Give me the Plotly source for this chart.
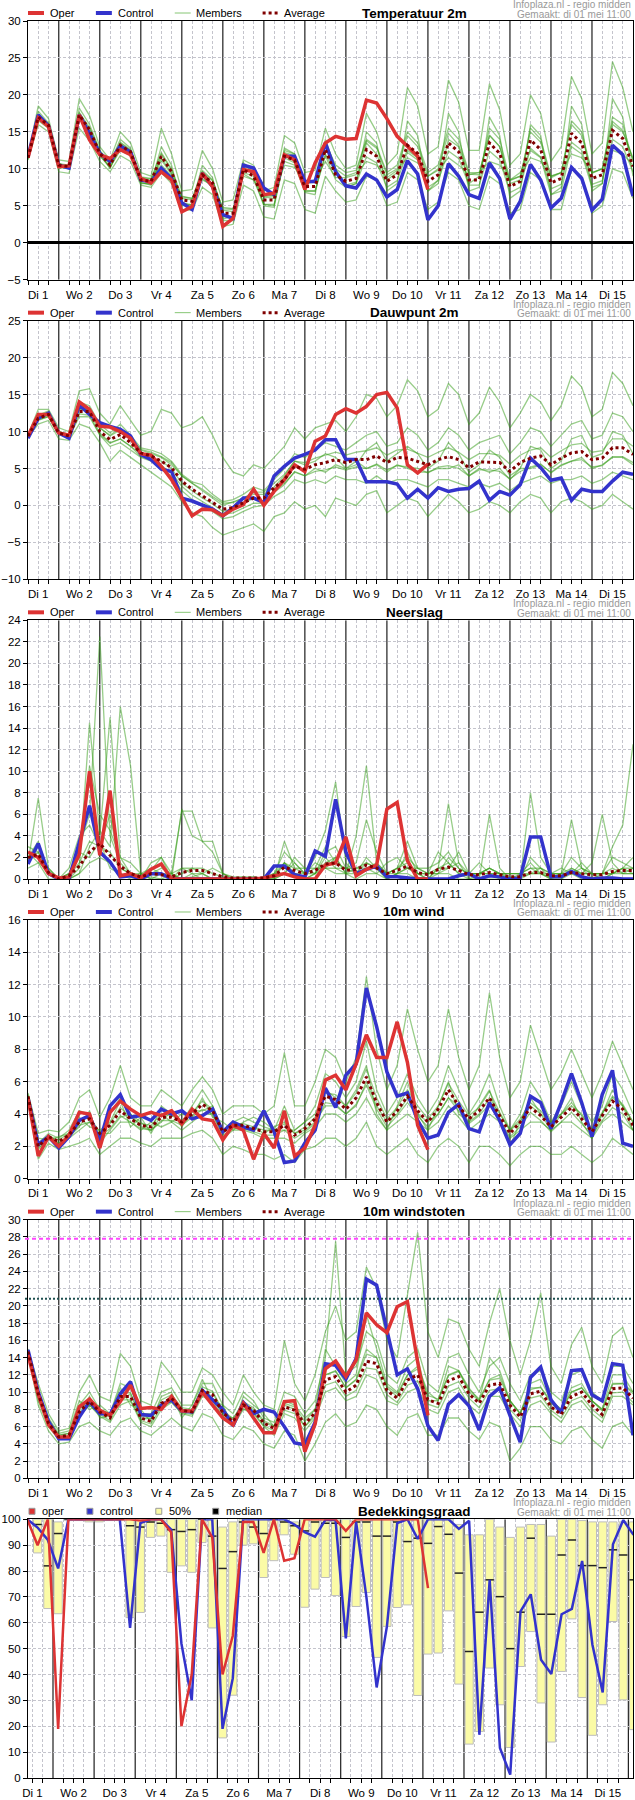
import pandas as pd
import plotly.graph_objects as go

# --- tijdas -------------------------------------------------------------
times = pd.date_range("2018-05-01 06:00", periods=60, freq="6h")
cloud_times = pd.date_range("2018-05-01 09:00", periods=60, freq="6h")
day_labels = ["Di 1", "Wo 2", "Do 3", "Vr 4", "Za 5", "Zo 6", "Ma 7", "Di 8",
              "Wo 9", "Do 10", "Vr 11", "Za 12", "Zo 13", "Ma 14", "Di 15"]
label_pos = pd.date_range("2018-05-01 12:00", periods=15, freq="D")
quarter_pos = pd.date_range("2018-05-01 06:00", periods=31, freq="12h")  # 06 en 18 uur
midnights = pd.date_range("2018-05-02", periods=15, freq="D")

# --- temperatuur 2m -----------------------------------------------------
temp_oper = [11.5, 16.9, 15.7, 10.3, 10.4, 17.3, 13.9, 11.9, 11.4, 12.6,
             11.9, 8.7, 8.1, 9.6, 8.5, 4.2, 4.9, 9.4, 7.6, 2.2,
             3.3, 9.9, 9.6, 6.5, 6.7, 11.9, 11.2, 7.2, 10.8, 13.5,
             14.4, 14.0, 14.1, 19.3, 18.9, 16.8, 14.4, 13.0, 11.7, 7.2]
temp_control = [11.7, 17.3, 15.8, 10.5, 10.1, 17.3, 14.8, 12.1, 11.0, 13.1,
                12.3, 8.5, 8.2, 10.1, 8.7, 5.4, 4.5, 9.4, 7.6, 3.8,
                3.3, 10.5, 10.1, 7.4, 6.5, 11.7, 11.7, 8.3, 8.3, 13.5,
                9.6, 7.7, 7.4, 9.3, 8.5, 6.2, 7.2, 11.1, 9.3, 3.1,
                5.0, 10.7, 9.0, 6.5, 6.0, 10.8, 8.7, 3.2, 5.6, 10.6,
                8.5, 4.7, 6.0, 10.2, 8.7, 4.4, 5.9, 13.2, 11.9, 6.3]
temp_average = [11.5, 17.0, 15.9, 10.5, 10.3, 17.3, 15.3, 12.1, 10.5, 13.2,
                12.3, 8.5, 8.3, 11.7, 9.6, 5.8, 5.6, 9.2, 8.1, 4.0,
                4.0, 9.9, 9.0, 5.8, 5.8, 11.7, 11.2, 7.6, 7.6, 12.6,
                9.2, 8.3, 8.7, 12.6, 11.7, 8.3, 9.2, 13.2, 12.1, 8.3,
                9.2, 13.5, 12.3, 8.5, 8.5, 13.5, 12.1, 7.6, 8.3, 13.9,
                12.6, 8.1, 8.7, 14.8, 13.5, 8.7, 9.2, 15.2, 14.1, 10.3]
temp_members = [
    [11.8, 18.5, 16.8, 11.2, 11.0, 19.5, 17.2, 13.0, 11.2, 15.0,
     13.5, 9.5, 9.0, 15.5, 12.0, 7.0, 7.2, 12.5, 10.0, 5.5,
     5.8, 11.2, 10.5, 7.0, 7.5, 14.5, 13.5, 9.5, 9.8, 15.5,
     12.0, 10.0, 10.5, 17.5, 15.0, 10.5, 12.0, 21.0, 18.5, 12.0,
     13.0, 22.0, 19.0, 12.5, 12.5, 21.5, 18.0, 10.5, 12.0, 20.0,
     17.5, 11.0, 13.0, 22.5, 19.5, 12.0, 13.5, 24.5, 21.0, 15.0],
    [11.2, 16.0, 15.0, 9.6, 9.4, 15.5, 13.8, 11.0, 9.6, 11.8,
     11.0, 7.8, 7.5, 9.5, 8.0, 4.5, 4.4, 7.5, 6.5, 2.2,
     2.5, 7.8, 7.0, 3.5, 3.2, 8.5, 8.0, 4.5, 4.0, 9.0,
     7.0, 5.5, 5.8, 9.0, 8.5, 5.0, 5.5, 9.5, 8.5, 4.5,
     5.5, 9.5, 8.5, 5.0, 4.5, 9.0, 8.0, 4.0, 4.5, 9.5,
     8.5, 4.5, 4.5, 10.0, 9.0, 4.0, 5.0, 10.0, 9.5, 6.0],
    [11.5, 17.8, 16.2, 10.0, 10.6, 18.2, 16.0, 12.5, 10.8, 14.0,
     12.8, 8.0, 8.0, 13.0, 10.5, 5.0, 5.2, 10.5, 8.8, 3.2,
     3.6, 10.8, 9.8, 5.2, 5.0, 12.8, 12.0, 6.8, 6.5, 14.0,
     10.0, 7.5, 8.0, 15.0, 13.5, 7.0, 8.0, 16.5, 14.5, 7.0,
     8.5, 17.5, 15.0, 7.0, 7.5, 17.0, 14.5, 6.0, 7.0, 16.0,
     14.5, 6.5, 7.5, 18.5, 16.0, 7.0, 8.0, 19.5, 17.0, 9.0],
    [11.6, 16.5, 15.5, 10.8, 10.0, 16.8, 14.8, 11.8, 10.2, 12.5,
     11.8, 8.8, 8.6, 10.5, 9.0, 6.2, 6.0, 8.5, 7.8, 4.8,
     4.6, 9.0, 8.5, 6.2, 6.4, 10.5, 10.2, 8.2, 8.5, 11.0,
     8.8, 8.8, 9.2, 11.0, 10.5, 8.8, 9.8, 11.5, 10.8, 9.0,
     9.8, 11.5, 10.5, 9.2, 9.5, 11.0, 10.5, 8.5, 9.0, 11.5,
     11.0, 9.0, 9.5, 12.0, 11.5, 9.5, 10.0, 12.5, 12.0, 10.5],
    [11.4, 17.2, 16.0, 10.2, 10.2, 17.0, 15.5, 12.3, 10.0, 13.5,
     12.5, 8.2, 7.8, 12.0, 9.8, 5.5, 5.0, 9.0, 7.5, 3.0,
     3.0, 9.5, 9.0, 5.0, 4.8, 11.5, 10.8, 7.0, 7.0, 12.0,
     9.5, 7.8, 8.2, 13.5, 12.0, 8.5, 9.5, 12.5, 11.5, 7.0,
     8.0, 14.0, 13.0, 8.0, 9.0, 15.5, 14.0, 8.5, 9.5, 12.5,
     11.5, 6.5, 7.0, 13.0, 12.0, 7.5, 8.0, 16.0, 15.0, 11.5],
    [11.6, 17.4, 15.8, 10.6, 10.4, 17.6, 15.0, 12.0, 10.6, 13.0,
     12.0, 8.6, 8.4, 11.5, 9.4, 6.0, 5.8, 9.6, 8.4, 4.4,
     4.2, 10.2, 9.4, 6.2, 6.0, 12.2, 11.8, 8.0, 8.2, 13.5,
     10.5, 9.5, 9.8, 14.0, 13.0, 9.5, 10.5, 15.0, 13.5, 9.5,
     10.5, 15.5, 14.0, 9.5, 9.5, 14.5, 13.0, 8.0, 8.5, 15.5,
     14.0, 9.0, 9.5, 16.5, 15.0, 9.5, 10.0, 17.0, 16.0, 11.0],
    [11.5, 17.1, 16.1, 10.7, 10.5, 17.6, 15.6, 12.4, 10.9, 13.6,
     12.6, 8.9, 8.7, 12.2, 10.0, 6.3, 6.0, 9.8, 8.5, 4.6,
     4.5, 10.5, 9.6, 6.5, 6.3, 12.5, 12.0, 8.3, 8.2, 13.4,
     10.0, 9.0, 9.5, 13.8, 12.8, 9.2, 10.0, 14.5, 13.0, 9.0,
     10.0, 14.8, 13.2, 9.3, 9.2, 14.6, 13.0, 8.4, 9.0, 15.0,
     13.6, 8.8, 9.5, 16.0, 14.5, 9.4, 10.0, 16.4, 15.2, 11.2],
    [11.4, 16.7, 15.6, 10.2, 10.0, 16.9, 14.9, 11.8, 10.2, 12.8,
     12.0, 8.1, 7.9, 11.2, 9.2, 5.3, 5.2, 8.7, 7.6, 3.5,
     3.5, 9.3, 8.5, 5.2, 5.2, 11.0, 10.5, 7.0, 7.0, 11.8,
     8.5, 7.5, 8.0, 11.6, 10.8, 7.5, 8.4, 12.2, 11.2, 7.5,
     8.4, 12.4, 11.4, 7.8, 7.8, 12.4, 11.2, 6.8, 7.5, 12.8,
     11.6, 7.3, 7.9, 13.6, 12.5, 7.9, 8.4, 14.0, 13.0, 9.6],
]

# --- dauwpunt 2m --------------------------------------------------------
dew_oper = [9.4, 12.3, 12.3, 9.8, 9.5, 14.0, 13.0, 10.7, 10.6, 10.0,
            9.1, 7.0, 6.8, 5.3, 3.5, 1.0, -1.4, -0.5, -0.6, -1.4,
            -0.5, 0.1, 2.2, 0.0, 1.9, 3.5, 5.5, 4.6, 8.7, 9.4,
            12.3, 13.1, 12.5, 13.4, 15.0, 15.3, 13.2, 5.5, 4.4, 5.6]
dew_control = [9.1, 11.8, 12.5, 9.8, 9.1, 13.6, 12.3, 11.2, 10.7, 10.3,
               9.4, 6.9, 6.2, 4.9, 4.6, 1.0, 0.6, 0.1, -0.5, -1.4,
               -0.3, 1.0, 1.0, 0.4, 4.0, 5.3, 6.4, 6.9, 7.5, 8.9,
               8.9, 6.2, 6.2, 3.2, 3.2, 3.2, 2.9, 1.0, 2.2, 1.0,
               2.4, 1.9, 2.2, 2.3, 3.3, 0.7, 1.9, 1.4, 2.8, 6.4,
               5.1, 3.4, 3.7, 0.7, 2.2, 1.9, 1.9, 3.3, 4.5, 4.2]
dew_average = [9.4, 11.8, 12.3, 9.8, 9.4, 12.7, 12.7, 10.0, 8.9, 9.6,
               8.5, 7.1, 6.7, 6.0, 5.1, 3.3, 2.2, 1.3, 0.4, -0.5,
               -0.3, 0.4, 1.0, 1.0, 2.4, 3.5, 5.3, 4.9, 5.5, 5.8,
               6.2, 5.8, 6.2, 6.2, 6.7, 5.8, 6.5, 6.4, 6.0, 5.5,
               6.2, 6.6, 6.2, 5.1, 5.9, 5.9, 5.8, 4.6, 5.8, 6.4,
               6.7, 5.5, 6.4, 7.1, 7.3, 6.2, 6.4, 7.8, 7.8, 6.9]
dew_members = [
    [9.6, 13.0, 13.0, 10.5, 10.0, 15.5, 15.8, 12.5, 11.0, 13.5,
     11.5, 9.5, 10.0, 13.0, 12.5, 10.5, 11.0, 12.0, 9.5, 6.5,
     4.5, 4.0, 5.5, 5.0, 6.5, 8.0, 10.5, 9.0, 10.5, 11.0,
     11.5, 10.0, 12.0, 15.0, 14.5, 12.0, 13.5, 17.0, 15.5, 12.0,
     13.0, 16.5, 15.0, 11.0, 12.5, 16.0, 14.0, 10.5, 12.5, 15.0,
     14.0, 11.5, 13.5, 17.5, 16.0, 12.0, 13.0, 18.0, 16.5, 13.5],
    [9.2, 11.0, 11.5, 9.0, 8.8, 11.0, 10.5, 8.5, 6.0, 7.5,
     6.5, 5.5, 4.5, 3.5, 2.5, 0.5, -1.0, -1.5, -3.0, -4.0,
     -3.5, -3.0, -2.5, -3.5, -1.5, -1.0, 0.5, -0.5, 0.0, -1.5,
     1.0, 0.5, 0.0, 1.5, 2.0, -1.0, 0.0, 1.0, 0.5, -1.5,
     0.0, 1.5, 0.5, -1.0, -0.5, 0.5, 0.0, -1.0, 0.5, 1.5,
     1.0, -1.0, 0.5, 1.0, 0.5, -0.5, 0.0, 1.5, 0.5, -0.5],
    [9.5, 12.2, 12.8, 10.0, 9.6, 14.0, 13.5, 11.0, 9.8, 11.0,
     9.5, 7.8, 7.5, 7.0, 6.0, 4.2, 3.2, 2.8, 1.5, 0.5,
     0.8, 1.5, 2.5, 2.0, 3.5, 5.0, 7.0, 6.5, 7.5, 8.5,
     8.0, 7.5, 8.5, 9.5, 10.0, 8.0, 8.5, 10.5, 9.5, 7.5,
     8.5, 10.5, 9.5, 7.5, 8.5, 9.0, 9.5, 7.0, 8.5, 10.5,
     10.0, 8.0, 9.5, 11.0, 11.5, 9.0, 9.5, 12.5, 12.0, 10.0],
    [9.3, 11.5, 12.0, 9.6, 9.2, 12.0, 12.0, 9.5, 8.0, 8.5,
     7.5, 6.5, 6.0, 5.0, 4.0, 2.0, 0.8, 0.0, -0.8, -1.8,
     -1.5, -0.8, -0.2, 0.0, 1.2, 2.0, 3.5, 3.0, 3.5, 3.0,
     4.0, 3.5, 3.5, 3.0, 4.0, 3.0, 3.5, 3.5, 3.0, 2.5,
     3.5, 3.5, 3.0, 2.5, 3.0, 2.5, 3.0, 2.0, 3.0, 3.5,
     4.0, 3.0, 3.5, 3.5, 4.0, 3.0, 3.5, 4.5, 4.0, 3.5],
    [9.4, 12.0, 12.5, 9.8, 9.5, 13.0, 13.0, 10.5, 9.5, 10.5,
     9.0, 7.5, 7.0, 6.5, 5.5, 4.0, 3.0, 2.0, 1.0, 0.0,
     0.5, 1.0, 1.5, 1.5, 2.5, 4.0, 6.0, 5.5, 6.0, 7.0,
     6.5, 5.0, 5.5, 7.5, 8.5, 6.0, 7.0, 8.0, 7.0, 5.0,
     6.0, 8.5, 7.0, 4.5, 5.5, 7.5, 6.5, 4.0, 5.0, 8.0,
     7.5, 5.0, 6.0, 9.0, 9.5, 6.5, 7.0, 10.0, 9.5, 7.0],
    [9.5, 11.6, 12.2, 9.9, 9.3, 13.2, 12.8, 9.8, 8.5, 9.0,
     8.0, 7.0, 6.5, 6.0, 5.0, 3.0, 2.0, 1.0, 0.2, -0.8,
     -0.5, 0.2, 1.0, 0.5, 2.0, 3.0, 4.5, 4.0, 5.0, 4.5,
     5.5, 5.0, 6.0, 5.0, 5.5, 4.5, 5.5, 5.0, 4.5, 4.5,
     5.0, 5.0, 5.5, 4.0, 5.0, 4.5, 5.0, 3.5, 5.0, 5.0,
     5.5, 4.5, 5.5, 6.0, 6.5, 5.0, 5.5, 6.5, 6.5, 5.5],
    [9.4, 12.0, 12.6, 10.0, 9.6, 13.0, 13.2, 10.5, 9.4, 10.2,
     9.0, 7.6, 7.2, 6.6, 5.8, 4.0, 3.0, 2.2, 1.2, 0.3,
     0.4, 1.0, 1.8, 1.8, 3.0, 4.2, 6.0, 5.8, 6.4, 6.8,
     7.2, 6.8, 7.2, 7.4, 7.8, 6.8, 7.5, 7.6, 7.0, 6.5,
     7.2, 7.8, 7.2, 6.2, 7.0, 7.0, 6.8, 5.6, 6.8, 7.5,
     7.8, 6.5, 7.4, 8.2, 8.4, 7.2, 7.4, 9.0, 9.0, 8.0],
    [9.3, 11.6, 12.0, 9.6, 9.2, 12.4, 12.2, 9.6, 8.4, 9.0,
     8.0, 6.6, 6.2, 5.4, 4.4, 2.6, 1.4, 0.5, -0.4, -1.2,
     -1.0, -0.3, 0.3, 0.3, 1.8, 2.8, 4.6, 4.0, 4.6, 4.8,
     5.2, 4.8, 5.2, 5.0, 5.6, 4.8, 5.4, 5.2, 5.0, 4.4,
     5.2, 5.4, 5.0, 4.0, 4.8, 4.8, 4.6, 3.6, 4.6, 5.2,
     5.6, 4.4, 5.4, 6.0, 6.2, 5.2, 5.4, 6.6, 6.6, 5.8],
]

# --- neerslag -----------------------------------------------------------
rain_oper = [2.5, 2.0, 0.5, 0.1, 0.2, 2.3, 10.0, 2.2, 8.2, 0.3,
             0.5, 0.1, 0.9, 1.4, 0.0, 0.0, 0.0, 0.0, 0.0, 0.0,
             0.0, 0.0, 0.0, 0.1, 0.3, 0.5, 0.2, 0.0, 0.0, 1.3,
             1.5, 3.9, 0.3, 0.9, 1.3, 6.5, 7.1, 1.7, 0.0, 0.0]
rain_control = [1.4, 3.3, 0.5, 0.0, 0.0, 3.4, 6.8, 2.5, 1.6, 0.2,
                0.3, 0.0, 0.5, 0.5, 0.0, 0.0, 0.0, 0.0, 0.0, 0.0,
                0.0, 0.0, 0.0, 0.0, 1.2, 1.2, 0.4, 0.2, 2.6, 2.1,
                7.4, 2.5, 0.5, 0.9, 1.2, 0.2, 0.2, 0.1, 0.0, 0.0,
                0.0, 0.0, 0.3, 0.5, 0.0, 0.3, 0.2, 0.0, 0.1, 3.9,
                3.9, 0.2, 0.2, 0.7, 0.2, 0.0, 0.1, 0.1, 0.0, 0.0]
rain_average = [2.0, 2.3, 0.6, 0.0, 0.3, 1.2, 2.5, 3.3, 2.2, 1.2,
                0.5, 0.2, 0.5, 0.4, 0.2, 0.6, 0.8, 0.8, 0.5, 0.2,
                0.1, 0.1, 0.1, 0.1, 0.3, 1.1, 0.8, 0.5, 0.8, 1.4,
                1.5, 0.8, 0.9, 1.3, 1.0, 0.5, 0.8, 1.2, 0.6, 0.4,
                0.9, 1.1, 0.8, 0.4, 0.4, 0.6, 0.4, 0.2, 0.2, 0.6,
                0.6, 0.3, 0.3, 0.6, 0.5, 0.4, 0.4, 0.7, 0.8, 0.8]
rain_members = [
    [1.5, 7.5, 1.0, 0.0, 0.5, 3.0, 6.0, 22.5, 4.0, 1.5,
     0.5, 0.0, 0.8, 2.0, 0.5, 0.0, 0.0, 0.0, 0.0, 0.0,
     0.0, 0.0, 0.0, 0.0, 0.0, 3.5, 1.0, 0.5, 2.0, 4.5,
     9.0, 1.5, 0.5, 2.0, 1.0, 0.0, 0.5, 2.5, 0.5, 0.0,
     1.0, 7.0, 1.5, 0.0, 0.5, 1.0, 0.5, 0.0, 0.0, 2.0,
     1.0, 0.0, 0.5, 2.0, 1.0, 0.5, 0.5, 3.0, 5.0, 12.5],
    [3.0, 2.5, 0.5, 0.0, 0.0, 1.0, 14.5, 4.0, 15.0, 2.0,
     0.5, 0.5, 0.0, 0.0, 0.5, 6.3, 6.3, 3.5, 3.5, 0.5,
     0.0, 0.0, 0.0, 0.0, 0.5, 1.5, 0.5, 0.0, 0.5, 2.0,
     1.0, 0.5, 4.0, 10.5, 1.5, 0.5, 1.0, 3.5, 1.0, 0.5,
     2.5, 1.5, 0.5, 0.0, 0.0, 6.0, 1.0, 0.0, 0.5, 1.0,
     0.5, 0.0, 0.0, 1.0, 0.5, 1.5, 6.0, 1.5, 0.5, 1.0],
    [2.0, 3.5, 0.5, 0.0, 0.0, 0.5, 3.0, 4.5, 3.0, 16.0,
     10.5, 0.5, 1.0, 0.5, 0.0, 1.0, 1.0, 0.5, 0.0, 0.0,
     0.0, 0.0, 0.0, 0.0, 0.0, 0.5, 2.0, 1.0, 1.0, 1.0,
     2.0, 0.5, 0.5, 1.5, 1.0, 0.0, 0.5, 1.0, 0.5, 0.0,
     1.0, 1.0, 2.5, 0.5, 0.5, 0.5, 0.0, 0.0, 0.0, 8.0,
     2.0, 0.5, 0.5, 5.5, 1.0, 0.0, 0.5, 1.0, 0.5, 0.5],
    [1.0, 1.5, 0.0, 0.0, 0.0, 0.5, 1.5, 2.0, 1.5, 0.5,
     0.0, 0.0, 0.2, 0.0, 0.0, 0.0, 0.2, 0.5, 0.0, 0.0,
     0.0, 0.0, 0.0, 0.0, 0.0, 0.5, 0.5, 0.0, 0.5, 1.0,
     0.5, 0.5, 0.0, 0.5, 0.5, 0.0, 0.5, 0.5, 0.0, 0.0,
     0.5, 0.5, 0.0, 0.0, 0.0, 0.0, 0.0, 0.0, 0.0, 0.5,
     0.5, 0.0, 0.0, 0.5, 0.0, 0.0, 0.0, 0.5, 0.5, 0.5],
    [2.5, 2.0, 1.0, 0.0, 1.0, 4.0, 5.0, 3.0, 6.0, 1.0,
     0.5, 0.0, 1.5, 2.0, 0.0, 6.5, 4.0, 3.5, 2.5, 0.5,
     0.0, 0.0, 0.0, 0.0, 0.0, 1.5, 1.0, 1.0, 0.5, 2.5,
     3.0, 1.0, 1.0, 1.0, 0.5, 1.5, 2.0, 1.0, 0.5, 0.5,
     0.5, 2.0, 1.0, 0.5, 1.5, 0.5, 0.5, 0.5, 0.5, 1.5,
     0.5, 0.5, 1.0, 0.5, 1.5, 0.5, 0.0, 0.5, 1.0, 2.0],
    [1.5, 3.0, 0.5, 0.0, 0.5, 2.0, 10.5, 6.0, 4.5, 2.0,
     1.5, 0.5, 0.0, 0.5, 0.5, 0.0, 0.5, 0.0, 0.0, 0.0,
     0.0, 0.2, 0.2, 0.0, 0.5, 2.5, 1.5, 0.5, 1.0, 3.0,
     1.5, 1.0, 1.5, 5.5, 2.5, 0.5, 1.0, 2.0, 1.0, 1.0,
     1.5, 2.5, 1.0, 0.5, 0.5, 1.0, 0.5, 0.5, 0.5, 1.0,
     1.0, 0.5, 0.5, 1.0, 0.5, 0.5, 0.5, 2.0, 1.5, 1.0],
    [2.0, 2.5, 0.5, 0.0, 0.3, 1.5, 3.5, 3.0, 2.5, 1.0,
     0.5, 0.2, 0.5, 0.5, 0.0, 0.5, 1.0, 1.0, 0.5, 0.2,
     0.0, 0.0, 0.2, 0.0, 0.2, 1.5, 0.5, 0.5, 0.5, 1.5,
     2.0, 0.5, 1.0, 1.5, 1.0, 0.5, 1.0, 1.5, 0.5, 0.5,
     1.0, 1.5, 0.5, 0.5, 0.5, 0.5, 0.5, 0.2, 0.2, 0.5,
     0.5, 0.2, 0.5, 0.5, 0.5, 0.5, 0.5, 0.5, 1.0, 1.0],
    [2.5, 1.5, 0.8, 0.0, 0.5, 2.5, 2.0, 3.5, 1.0, 0.5,
     0.2, 0.5, 0.5, 1.0, 0.5, 1.0, 0.5, 0.5, 1.0, 0.5,
     0.2, 0.2, 0.0, 0.2, 0.5, 0.5, 1.5, 0.5, 1.5, 1.0,
     1.0, 1.0, 0.5, 1.0, 1.5, 0.5, 0.5, 1.0, 1.0, 0.5,
     0.5, 1.0, 1.5, 0.5, 0.5, 1.0, 0.5, 0.5, 0.5, 0.5,
     1.0, 0.5, 0.5, 0.5, 1.0, 0.5, 0.5, 0.5, 1.0, 0.5],
]

# --- 10m wind -----------------------------------------------------------
wind_oper = [5.0, 1.4, 2.6, 2.0, 2.7, 4.1, 4.0, 1.9, 4.1, 4.8,
             4.3, 3.9, 4.1, 3.9, 4.2, 3.4, 4.3, 3.7, 3.6, 2.4,
             3.3, 3.0, 1.2, 2.8, 1.9, 4.2, 1.4, 1.9, 3.3, 6.1,
             6.4, 5.5, 7.1, 8.9, 7.5, 7.5, 9.7, 7.2, 3.3, 1.8]
wind_control = [5.0, 2.1, 2.6, 1.9, 2.6, 3.6, 3.9, 2.3, 4.5, 5.2,
                3.8, 3.9, 3.6, 4.3, 4.0, 4.2, 3.7, 3.9, 4.3, 2.9,
                3.5, 3.2, 3.0, 4.2, 2.9, 1.0, 1.1, 2.2, 3.0, 5.6,
                4.4, 6.4, 7.1, 11.8, 9.4, 6.6, 5.1, 5.3, 3.6, 2.5,
                2.7, 4.1, 4.6, 3.1, 2.9, 4.7, 3.6, 2.1, 2.8, 5.1,
                4.7, 3.1, 4.7, 6.5, 4.7, 2.6, 5.2, 6.7, 2.2, 2.0]
wind_average = [5.1, 2.0, 2.6, 2.3, 2.7, 3.5, 3.7, 2.8, 3.3, 4.2,
                3.7, 3.3, 3.2, 3.8, 3.8, 3.5, 4.0, 4.6, 4.2, 2.9,
                3.3, 3.3, 3.1, 2.9, 2.9, 3.3, 2.7, 3.1, 3.7, 5.1,
                4.9, 4.3, 5.0, 6.3, 4.7, 3.5, 4.2, 5.1, 4.2, 3.5,
                4.3, 5.5, 4.5, 3.7, 4.2, 5.0, 3.9, 2.8, 3.5, 4.4,
                3.9, 3.2, 3.8, 4.4, 3.7, 2.9, 3.9, 4.8, 4.3, 3.3]
wind_members = [
    [5.3, 2.8, 3.0, 2.9, 3.5, 5.0, 5.5, 3.8, 5.0, 7.0,
     5.0, 4.5, 4.5, 5.5, 5.0, 4.5, 5.5, 6.3, 5.5, 4.0,
     4.5, 4.5, 4.5, 4.0, 4.5, 7.8, 4.5, 4.5, 6.0, 8.0,
     7.5, 6.0, 7.5, 12.5, 8.0, 5.5, 7.0, 10.5, 8.0, 6.0,
     7.0, 10.5, 7.5, 5.5, 7.0, 11.5, 7.5, 5.0, 6.0, 9.5,
     7.5, 5.5, 6.5, 8.0, 6.5, 5.0, 6.5, 8.5, 7.0, 5.5],
    [4.8, 1.2, 2.2, 1.8, 2.0, 2.2, 2.5, 1.5, 2.0, 2.5,
     2.5, 2.2, 2.0, 2.5, 2.5, 2.5, 2.8, 3.0, 2.5, 1.5,
     2.0, 1.8, 1.5, 1.5, 1.2, 1.5, 1.0, 1.8, 2.0, 2.5,
     2.5, 2.0, 2.5, 3.5, 2.0, 1.5, 2.0, 2.5, 1.5, 1.0,
     2.0, 2.5, 2.0, 1.0, 2.0, 2.0, 1.5, 0.8, 1.5, 2.0,
     2.0, 1.5, 1.5, 2.0, 1.5, 1.0, 1.5, 2.5, 2.0, 1.5],
    [5.0, 2.2, 2.8, 2.5, 3.0, 4.2, 4.0, 2.5, 4.0, 5.0,
     4.0, 3.5, 3.0, 4.5, 4.0, 3.5, 4.5, 5.5, 4.5, 3.0,
     3.5, 3.8, 3.5, 3.2, 3.0, 4.5, 3.0, 3.5, 4.5, 6.5,
     6.0, 5.0, 6.0, 8.5, 5.5, 4.0, 5.0, 6.5, 5.0, 4.0,
     5.0, 7.0, 5.5, 4.0, 5.0, 6.5, 4.5, 3.0, 4.0, 6.0,
     5.0, 3.5, 4.5, 6.0, 4.5, 3.5, 4.5, 6.5, 5.5, 4.0],
    [5.1, 1.8, 2.5, 2.0, 2.5, 3.0, 3.5, 2.8, 2.8, 3.5,
     3.5, 3.0, 3.5, 3.2, 3.5, 3.0, 3.5, 4.0, 4.0, 2.5,
     3.0, 3.0, 2.8, 2.5, 2.5, 2.5, 2.2, 2.8, 3.2, 4.0,
     4.0, 3.5, 4.0, 5.0, 3.8, 3.0, 3.5, 4.0, 3.5, 3.0,
     3.5, 4.5, 3.8, 3.0, 3.5, 4.0, 3.5, 2.5, 3.0, 3.5,
     3.5, 3.0, 3.5, 3.5, 3.0, 2.5, 3.5, 4.0, 3.5, 3.0],
    [5.2, 2.5, 2.4, 2.6, 2.8, 3.8, 3.2, 3.0, 3.5, 4.8,
     3.2, 3.8, 2.8, 4.0, 3.5, 4.0, 3.8, 5.0, 3.8, 3.5,
     3.0, 3.5, 3.8, 3.5, 3.0, 3.0, 3.0, 3.5, 4.0, 5.5,
     5.0, 4.5, 5.5, 7.0, 4.0, 3.0, 4.5, 6.0, 4.0, 3.0,
     4.5, 6.0, 4.0, 3.5, 4.5, 5.5, 3.5, 2.0, 3.5, 5.0,
     4.0, 3.0, 4.0, 5.0, 3.5, 2.5, 4.0, 5.5, 4.5, 3.0],
    [5.0, 1.5, 2.7, 2.2, 2.6, 3.2, 4.2, 2.2, 3.0, 3.8,
     4.0, 3.2, 3.0, 3.5, 4.2, 3.2, 4.2, 4.2, 4.5, 2.8,
     3.5, 3.0, 3.2, 2.8, 3.2, 3.5, 2.8, 3.0, 3.5, 4.5,
     4.5, 4.0, 4.5, 6.0, 4.5, 3.5, 4.0, 5.0, 4.0, 3.5,
     4.0, 5.0, 4.5, 3.5, 4.0, 5.0, 4.0, 3.0, 3.5, 4.5,
     4.0, 3.5, 4.0, 4.5, 4.0, 3.0, 4.0, 5.0, 4.5, 3.5],
    [5.1, 2.2, 2.6, 2.4, 2.8, 3.6, 3.8, 2.9, 3.4, 4.4,
     3.8, 3.4, 3.3, 4.0, 3.9, 3.6, 4.1, 4.8, 4.3, 3.0,
     3.4, 3.4, 3.2, 3.0, 3.0, 3.4, 2.8, 3.2, 3.8, 5.3,
     5.2, 4.5, 5.3, 6.8, 5.0, 3.7, 4.4, 5.5, 4.5, 3.7,
     4.5, 5.9, 4.8, 3.9, 4.4, 5.4, 4.1, 3.0, 3.7, 4.7,
     4.2, 3.4, 4.0, 4.7, 3.9, 3.1, 4.1, 5.1, 4.6, 3.5],
    [5.0, 1.9, 2.5, 2.2, 2.6, 3.3, 3.5, 2.6, 3.1, 3.9,
     3.5, 3.1, 3.0, 3.6, 3.6, 3.3, 3.8, 4.3, 4.0, 2.7,
     3.1, 3.1, 2.9, 2.7, 2.7, 3.0, 2.5, 2.9, 3.4, 4.7,
     4.6, 4.0, 4.6, 5.8, 4.3, 3.2, 3.9, 4.7, 3.9, 3.2,
     4.0, 5.0, 4.2, 3.4, 3.9, 4.6, 3.6, 2.6, 3.2, 4.1,
     3.6, 2.9, 3.5, 4.1, 3.4, 2.7, 3.6, 4.4, 4.0, 3.0],
]

# --- 10m windstoten -----------------------------------------------------
gust_oper = [14.3, 9.7, 6.2, 4.8, 4.8, 8.3, 9.2, 7.9, 7.3, 8.9,
             10.8, 8.1, 8.2, 8.0, 9.5, 7.8, 7.8, 10.0, 8.5, 7.0,
             6.2, 8.7, 7.0, 5.3, 5.3, 8.9, 9.0, 3.1, 6.3, 12.7,
             13.6, 11.8, 13.7, 19.2, 17.8, 16.9, 19.9, 20.5, 13.5, 7.3]
gust_control = [14.9, 10.0, 6.6, 4.6, 4.6, 7.1, 8.9, 7.5, 7.4, 9.8,
                11.2, 7.4, 7.3, 8.5, 9.1, 7.8, 7.7, 10.2, 9.1, 8.0,
                6.1, 8.8, 7.5, 8.0, 7.7, 6.0, 4.1, 3.9, 6.5, 13.3,
                13.1, 11.5, 13.9, 23.1, 22.4, 17.0, 12.0, 12.7, 10.4, 6.1,
                4.4, 8.6, 9.7, 8.4, 5.6, 9.5, 10.5, 7.3, 4.2, 11.7,
                12.9, 9.1, 7.6, 12.5, 12.6, 9.7, 9.0, 13.3, 13.1, 5.0]
gust_average = [14.7, 9.8, 6.4, 4.8, 5.0, 7.7, 8.9, 7.7, 7.0, 9.5,
                9.5, 7.0, 6.6, 8.7, 9.3, 7.9, 7.7, 10.2, 9.7, 7.6,
                6.6, 8.5, 7.9, 6.4, 5.8, 8.3, 7.9, 6.3, 7.6, 11.4,
                11.8, 10.0, 10.8, 13.6, 13.3, 10.2, 9.3, 11.4, 12.0, 9.1,
                8.7, 11.3, 11.8, 9.8, 8.7, 10.8, 11.0, 8.5, 7.1, 9.8,
                10.1, 8.3, 7.4, 9.5, 10.0, 8.5, 7.4, 10.4, 10.5, 9.3]
gust_members = [
    [15.0, 11.0, 7.5, 5.5, 5.8, 10.0, 12.0, 9.5, 9.0, 14.5,
     13.0, 9.0, 8.5, 13.5, 12.0, 10.0, 10.0, 12.8, 12.0, 10.0,
     8.5, 12.0, 10.0, 8.5, 8.0, 16.0, 11.0, 9.0, 12.0, 17.0,
     20.0, 16.0, 17.0, 24.5, 22.0, 16.0, 14.0, 21.0, 28.5, 17.0,
     14.0, 18.5, 18.0, 15.0, 13.0, 18.0, 22.0, 16.0, 12.0, 16.0,
     21.5, 13.0, 11.0, 15.5, 17.5, 13.0, 11.0, 16.5, 17.5, 14.0],
    [14.5, 8.5, 5.5, 4.0, 4.2, 6.0, 6.5, 5.5, 5.0, 6.5,
     7.0, 5.5, 5.0, 6.0, 7.0, 6.0, 5.5, 7.5, 7.0, 5.0,
     4.5, 6.0, 5.5, 4.0, 3.5, 5.5, 5.0, 2.0, 4.0, 6.5,
     7.5, 6.0, 6.5, 8.5, 8.0, 6.0, 5.0, 7.0, 7.5, 5.0,
     5.0, 7.0, 7.0, 5.5, 4.5, 6.5, 6.0, 2.0, 3.5, 6.0,
     6.0, 4.5, 4.0, 5.5, 6.0, 4.5, 3.5, 6.0, 6.5, 5.0],
    [14.8, 10.2, 6.8, 5.0, 5.2, 8.5, 10.0, 8.0, 7.5, 11.0,
     10.5, 7.5, 7.5, 10.0, 10.5, 8.5, 8.5, 11.0, 11.0, 8.5,
     7.5, 10.0, 9.0, 7.0, 6.5, 10.0, 9.5, 7.5, 9.0, 14.0,
     27.5, 12.0, 13.0, 17.0, 16.0, 12.0, 11.0, 14.0, 15.0, 11.0,
     10.0, 14.0, 14.5, 12.0, 10.0, 13.0, 14.0, 11.0, 9.0, 12.0,
     12.5, 10.0, 9.0, 12.0, 12.5, 10.0, 9.0, 13.0, 13.0, 11.0],
    [14.6, 9.5, 6.2, 4.6, 4.8, 7.2, 8.5, 7.2, 6.5, 8.5,
     9.0, 6.5, 6.0, 8.0, 8.8, 7.5, 7.2, 9.5, 9.0, 7.0,
     6.0, 8.0, 7.5, 6.0, 5.0, 7.5, 7.0, 5.5, 7.0, 10.0,
     10.5, 9.0, 9.5, 12.0, 11.5, 9.0, 8.5, 10.0, 10.5, 8.0,
     7.5, 10.0, 10.5, 8.5, 7.5, 9.5, 9.5, 7.5, 6.0, 8.5,
     9.0, 7.5, 6.5, 8.5, 9.0, 7.5, 6.5, 9.5, 9.5, 8.5],
    [14.7, 10.0, 7.0, 5.2, 5.5, 9.0, 8.0, 8.5, 7.5, 10.5,
     8.5, 8.0, 6.5, 9.5, 10.0, 7.0, 8.5, 11.5, 9.0, 8.5,
     6.0, 9.5, 8.5, 7.5, 6.0, 9.0, 8.5, 7.0, 8.0, 15.0,
     13.0, 11.0, 12.0, 19.0, 15.0, 11.0, 10.0, 13.0, 14.0, 9.0,
     9.0, 13.0, 12.5, 10.0, 9.0, 14.0, 12.5, 9.0, 7.5, 11.0,
     11.5, 9.0, 8.0, 10.5, 11.0, 9.0, 8.0, 12.0, 12.0, 10.0],
    [14.9, 9.0, 6.0, 4.5, 5.0, 7.5, 9.5, 7.0, 7.2, 9.0,
     9.8, 6.8, 7.0, 8.5, 9.5, 8.0, 7.5, 10.0, 10.0, 7.5,
     7.0, 8.5, 8.0, 6.5, 6.0, 8.5, 8.0, 6.0, 7.5, 12.0,
     12.5, 10.5, 11.5, 15.0, 14.0, 10.5, 9.5, 12.0, 13.0, 10.0,
     9.0, 12.0, 12.5, 10.5, 9.0, 11.5, 12.0, 9.0, 7.5, 10.5,
     10.5, 9.0, 8.0, 10.0, 10.5, 9.0, 8.0, 11.0, 11.0, 10.0],
    [14.8, 10.0, 6.6, 5.0, 5.2, 8.0, 9.3, 8.0, 7.3, 9.9,
     9.9, 7.3, 6.9, 9.1, 9.7, 8.2, 8.0, 10.6, 10.1, 7.9,
     6.9, 8.9, 8.2, 6.7, 6.1, 8.7, 8.3, 6.6, 8.0, 12.0,
     12.4, 10.5, 11.4, 14.4, 14.0, 10.7, 9.8, 12.0, 12.7, 9.6,
     9.2, 11.9, 12.4, 10.3, 9.2, 11.4, 11.6, 9.0, 7.5, 10.3,
     10.6, 8.7, 7.8, 10.0, 10.5, 9.0, 7.8, 10.9, 11.0, 9.8],
    [14.6, 9.6, 6.2, 4.6, 4.8, 7.4, 8.5, 7.4, 6.7, 9.1,
     9.1, 6.7, 6.3, 8.3, 8.9, 7.6, 7.4, 9.8, 9.3, 7.3,
     6.3, 8.1, 7.6, 6.1, 5.5, 7.9, 7.5, 6.0, 7.2, 10.8,
     11.2, 9.5, 10.2, 12.8, 12.6, 9.7, 8.8, 10.8, 11.3, 8.6,
     8.2, 10.7, 11.2, 9.3, 8.2, 10.2, 10.4, 8.0, 6.7, 9.3,
     9.6, 7.9, 7.0, 9.0, 9.5, 8.0, 7.0, 9.9, 10.0, 8.8],
]
gust_limits = [27.78, 20.83]   # 100 km/h en 75 km/h

# --- bedekkingsgraad ----------------------------------------------------
cloud_oper = [100, 90, 100, 19, 100, 100, 100, 100, 100, 100,
              100, 99.5, 100, 100, 95, 20, 40, 100, 93, 40,
              55, 99, 99, 87, 100, 84, 85, 100, 100, 100,
              100, 95.5, 100, 100, 100, 100, 100, 100, 100, 73.4]
cloud_control = [100, 96.8, 92, 81, 100, 100, 100, 100, 100, 100,
                 58, 98.5, 100, 100, 96, 52, 30, 100, 100, 19,
                 38.6, 100, 100, 100, 100, 100, 98, 95, 93.3, 99.7,
                 99.7, 54, 99, 70, 35, 58.6, 98.5, 100, 92.4, 100,
                 100, 100, 96.3, 99.4, 16.7, 76.6, 11.6, 1.3, 64.4, 71,
                 45.7, 40.2, 63.3, 65.4, 83.9, 51.5, 33.1, 90.3, 99.7, 94]
cloud_p75 = [None, 100, 100, 99, 100, 100, 100, 100, 100, 100,
             100, 100, 100, 100, 100, 100, 100, 100, 100, 97,
             99, 100, 100, 100, 100, 100, 99, 100, 100, 100,
             100, 100, 100, 100, 100, 100, 100, 100, 100, 100,
             100, 100, 98, 94, 94, 100, 97, 93, 97, 98,
             98, 93.5, 100, 100, 99.5, 99, 99, 99, 99, 99]
cloud_p25 = [None, 87, 65.5, 63.5, 99.5, 99.5, 99, 99, 99.5, 99.5,
             62, 64, 93, 93.5, 79.5, 82, 79.5, 91, 58, 15.5,
             32, 90, 90.5, 77.5, 84, 94, 86.5, 66, 73, 77.5,
             70.5, 54.7, 66.3, 71.7, 46.6, 58.6, 65.9, 66.9, 31.9, 47.9,
             48.3, 64.6, 36.3, 13.1, 18, 42.5, 28.3, 11.8, 43.1, 56.6,
             29, 13.9, 41.2, 61.5, 31.1, 16.5, 28.3, 60.5, 30.2, 18.7]
cloud_median = [None, 98, 82, 94.5, 100, 100, 100, 100, 100, 100,
                97.5, 97, 99, 98.5, 96, 95.3, 96, 100, 93.5, 81,
                87.5, 99, 97, 94.5, 100, 99, 97.5, 95.5, 99, 98.5,
                98.5, 93, 99, 99, 93.5, 93.5, 99, 91.4, 92.7, 90.7,
                97.2, 94.2, 79.2, 48.9, 64.1, 76.6, 70.1, 50, 64.1, 92.7,
                63.3, 63.3, 86.2, 92, 82.1, 82.1, 81.3, 88.2, 86.2, 76.6]

# --- opmaak -------------------------------------------------------------
W, H = 635, 1800
ML, MR, MT, MB = 28, 1, 21, 20
PW, PH = W - ML - MR, H - MT - MB
FONT = "Liberation Sans, Arial, sans-serif"
RED, BLUE, AVG, GREEN = "#dd3333", "#3333cc", "#800000", "rgba(50,155,20,0.5)"
GRID = "#c4c4cc"


def px(x):
    return (x - ML) / PW


def py(y):
    return (H - MB - y) / PH


panels = [
    ("Temperatuur 2m", [-5, 30], 5, temp_oper, temp_control, temp_members, temp_average),
    ("Dauwpunt 2m", [-10, 25], 5, dew_oper, dew_control, dew_members, dew_average),
    ("Neerslag", [0, 24], 2, rain_oper, rain_control, rain_members, rain_average),
    ("10m wind", [0, 16], 2, wind_oper, wind_control, wind_members, wind_average),
    ("10m windstoten", [0, 30], 2, gust_oper, gust_control, gust_members, gust_average),
    ("Bedekkingsgraad", [0, 100], 10, None, None, None, None),
]

fig = go.Figure()
shapes, annotations = [], []
layout = {}

for k, (title, yrange, dtick, oper, control, members, average) in enumerate(panels):
    n = k + 1
    xa = "x" if n == 1 else f"x{n}"
    ya = "y" if n == 1 else f"y{n}"
    top = MT + 300 * k
    bottom = top + 259

    if n < 6:
        for m in members:
            fig.add_trace(go.Scatter(x=times, y=m, xaxis=xa, yaxis=ya, mode="lines",
                                     line=dict(color=GREEN, width=1.3), showlegend=False,
                                     hoverinfo="skip"))
        fig.add_trace(go.Scatter(x=times, y=control, xaxis=xa, yaxis=ya, mode="lines",
                                 name="Control", line=dict(color=BLUE, width=3.5),
                                 showlegend=False))
        fig.add_trace(go.Scatter(x=times[:len(oper)], y=oper, xaxis=xa, yaxis=ya,
                                 mode="lines", name="Oper",
                                 line=dict(color=RED, width=3.5), showlegend=False))
        fig.add_trace(go.Scatter(x=times, y=average, xaxis=xa, yaxis=ya, mode="lines",
                                 name="Average", line=dict(color=AVG, width=3, dash="dot"),
                                 showlegend=False))
        xrange = ["2018-05-01 06:00", "2018-05-16 00:00"]
        day_lines = midnights[:-1]
    else:
        fig.add_trace(go.Bar(x=cloud_times,
                             y=[None if t is None else t - b for t, b in zip(cloud_p75, cloud_p25)],
                             base=cloud_p25, width=4.8 * 3600 * 1000, xaxis=xa, yaxis=ya,
                             marker=dict(color="#fbfba6", line=dict(color="#bdbdbd", width=1)),
                             name="50%", showlegend=False))
        fig.add_trace(go.Scatter(x=cloud_times, y=cloud_median, xaxis=xa, yaxis=ya,
                                 mode="markers", name="median", showlegend=False,
                                 marker=dict(symbol="line-ew", size=6,
                                             line=dict(color="#222222", width=1.5))))
        fig.add_trace(go.Scatter(x=cloud_times, y=cloud_control, xaxis=xa, yaxis=ya,
                                 mode="lines", name="control", showlegend=False,
                                 line=dict(color=BLUE, width=2.5)))
        fig.add_trace(go.Scatter(x=cloud_times[:len(cloud_oper)], y=cloud_oper, xaxis=xa,
                                 yaxis=ya, mode="lines", name="oper", showlegend=False,
                                 line=dict(color=RED, width=2.5)))
        xrange = ["2018-05-01 09:24", "2018-05-16 02:42"]
        day_lines = midnights

    layout["xaxis" if n == 1 else f"xaxis{n}"] = dict(
        domain=[0, 1], anchor=ya, type="date", range=xrange,
        tickmode="array", tickvals=label_pos, ticktext=day_labels,
        ticks="outside", ticklen=4, tickcolor="black",
        tickfont=dict(family=FONT, size=11.5, color="black"),
        showgrid=True, gridcolor=GRID, griddash="3px,2px", gridwidth=1,
        minor=dict(tickmode="array", tickvals=quarter_pos,
                   ticks="outside", ticklen=4, tickcolor="black",
                   showgrid=True, gridcolor=GRID, griddash="3px,2px"),
        showline=True, linecolor="black", linewidth=1, mirror=True, zeroline=False,
    )
    layout["yaxis" if n == 1 else f"yaxis{n}"] = dict(
        domain=[py(bottom), py(top)], anchor=xa, range=yrange,
        tickmode="linear", tick0=0, dtick=dtick,
        ticks="outside", ticklen=4, tickcolor="black",
        tickfont=dict(family=FONT, size=11.5, color="black"),
        showgrid=True, gridcolor=GRID, griddash="3px,2px",
        showline=True, linecolor="black", linewidth=1, mirror=True,
        zeroline=(n == 1), zerolinecolor="black", zerolinewidth=3,
    )

    # daggrenzen
    for d in day_lines:
        shapes.append(dict(type="line", xref=xa, yref=ya, x0=d, x1=d,
                           y0=yrange[0], y1=yrange[1], layer="below",
                           line=dict(color="#1e1e1e", width=1.2)))

    # titel en bronvermelding
    annotations.append(dict(x=px(415), y=py(top - 8), xref="paper", yref="paper",
                            text=f"<b>{title}</b>", showarrow=False, xanchor="center",
                            yanchor="middle", font=dict(family=FONT, size=13.5, color="black")))
    annotations.append(dict(x=px(634), y=py(top - 16.5), xref="paper", yref="paper",
                            text="Infoplaza.nl - regio midden", showarrow=False,
                            xanchor="right", yanchor="middle",
                            font=dict(family=FONT, size=10, color="#999999")))
    annotations.append(dict(x=px(634), y=py(top - 7), xref="paper", yref="paper",
                            text="Gemaakt: di 01 mei 11:00", showarrow=False,
                            xanchor="right", yanchor="middle",
                            font=dict(family=FONT, size=10, color="#999999")))

    # legenda
    ly = top - 8
    if n < 6:
        items = [("Oper", 28, 44, 48, dict(color=RED, width=4)),
                 ("Control", 96, 112, 116, dict(color=BLUE, width=4)),
                 ("Members", 175, 191, 194, dict(color="rgba(55,160,25,0.6)", width=1)),
                 ("Average", 263, 278, 282, dict(color=AVG, width=3, dash="dot"))]
        for label, x0, x1, tx, line in items:
            shapes.append(dict(type="line", xref="paper", yref="paper", x0=px(x0), x1=px(x1),
                               y0=py(ly), y1=py(ly), line=line))
            annotations.append(dict(x=px(tx), y=py(ly), xref="paper", yref="paper", text=label,
                                    showarrow=False, xanchor="left", yanchor="middle",
                                    font=dict(family=FONT, size=11, color="black")))
    else:
        items = [("oper", 29, 40, RED), ("control", 87, 98, BLUE),
                 ("50%", 156, 167, "#fbfba6"), ("median", 213, 224, "black")]
        for label, x0, tx, color in items:
            shapes.append(dict(type="rect", xref="paper", yref="paper", x0=px(x0),
                               x1=px(x0 + 6), y0=py(ly + 3), y1=py(ly - 3), fillcolor=color,
                               line=dict(color="#999999", width=1)))
            annotations.append(dict(x=px(tx), y=py(ly), xref="paper", yref="paper", text=label,
                                    showarrow=False, xanchor="left", yanchor="middle",
                                    font=dict(family=FONT, size=11, color="black")))

# drempels windstoten
shapes.append(dict(type="line", xref="paper", yref="y5", x0=px(25), x1=1,
                   y0=gust_limits[0], y1=gust_limits[0],
                   line=dict(color="#ff44ff", width=2, dash="4px,3px")))
shapes.append(dict(type="line", xref="paper", yref="y5", x0=px(25), x1=1,
                   y0=gust_limits[1], y1=gust_limits[1],
                   line=dict(color="#1f5050", width=2, dash="2px,2px")))

fig.update_layout(
    width=W, height=H,
    margin=dict(l=ML, r=MR, t=MT, b=MB),
    paper_bgcolor="white", plot_bgcolor="rgba(0,0,0,0)",
    showlegend=False, barmode="overlay",
    shapes=shapes, annotations=annotations,
    font=dict(family=FONT, size=11, color="black"),
    **layout,
)

fig.write_html("out.html", config={"displayModeBar": False},
               post_script="document.body.style.margin='0';")
